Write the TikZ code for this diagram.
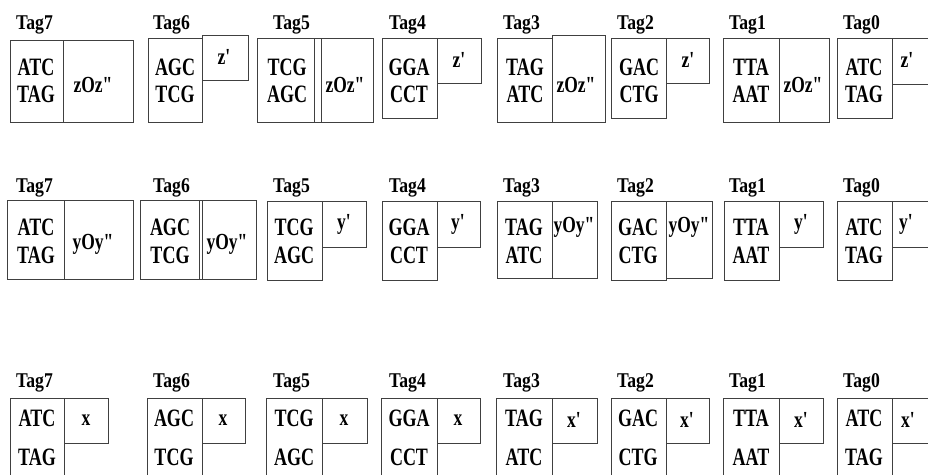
\documentclass[tikz,border=0pt]{standalone}
\usepackage{fontspec}
\setmainfont{Liberation Serif}
\usepackage{graphicx}
\newcommand{\squeeze}[2]{\scalebox{#1}[1]{#2}}
\newcommand{\prm}{\textquotesingle}
\newcommand{\dprm}{\textquotedbl}

\begin{document}
\begin{tikzpicture}[x=1pt,y=-1pt,
  cell/.style={draw=black!75,line width=.8pt},
  tag/.style={inner sep=0pt,anchor=base west,font=\fontsize{21}{21}\selectfont\bfseries},
  strand/.style={inner sep=0pt,anchor=base,font=\fontsize{25}{25}\selectfont\bfseries},
  site/.style={inner sep=0pt,font=\fontsize{23}{23}\selectfont\bfseries}]
\useasboundingbox (0,0) rectangle (928,474);

% tag labels, same columns in all three rows
\foreach \n/\x in {7/16,6/153,5/273,4/389,3/503,2/617,1/729,0/843} {
  \node[tag] (tag\n z) at (\x,29) {\squeeze{.84}{Tag\n}};
  \node[tag] (tag\n y) at (\x,192) {\squeeze{.84}{Tag\n}};
  \node[tag] (tag\n x) at (\x,387) {\squeeze{.84}{Tag\n}};
}

% z row
\draw[cell] (10,40) rectangle (63,122) (63,40) rectangle (133,122);
\draw[cell] (148,38) rectangle (202,122) (202,35) rectangle (248,80);
\draw[cell] (257,38) rectangle (321,122) (314,38) rectangle (373,122);
\draw[cell] (382,38) rectangle (437,118) (437,38) rectangle (481,83);
\draw[cell] (497,38) rectangle (552,122) (552,35) rectangle (605,122);
\draw[cell] (611,38) rectangle (666,118) (666,38) rectangle (709,83);
\draw[cell] (723,38) rectangle (779,122) (779,38) rectangle (829,122);
\draw[cell] (837,38) rectangle (892,118) (892,38) rectangle (935,84);
\foreach \n/\x/\up/\lo in {7/36/ATC/TAG,6/175/AGC/TCG,5/287/TCG/AGC,4/409/GGA/CCT,
    3/525/TAG/ATC,2/639/GAC/CTG,1/751/TTA/AAT,0/864/ATC/TAG} {
  \node[strand] (up\n z) at (\x,75) {\squeeze{.72}{\up}};
  \node[strand] (lo\n z) at (\x,102) {\squeeze{.72}{\lo}};
}
\foreach \n/\x/\y/\s in {7/93/85/zOz\dprm,6/224/57/z\prm,5/345/85/zOz\dprm,4/459/60/z\prm,
    3/576/85/zOz\dprm,2/688/60/z\prm,1/803/85/zOz\dprm,0/907/60/z\prm}
  \node[site] (site\n z) at (\x,\y) {\squeeze{.76}{\s}};

% y row
\draw[cell] (7,200) rectangle (64,279) (64,200) rectangle (133,279);
\draw[cell] (140,200) rectangle (202,279) (199,200) rectangle (256,279);
\draw[cell] (267,201) rectangle (322,280) (322,201) rectangle (366,247);
\draw[cell] (382,201) rectangle (437,280) (437,201) rectangle (480,247);
\draw[cell] (497,201) rectangle (552,278) (552,201) rectangle (597,278);
\draw[cell] (611,201) rectangle (666,280) (666,201) rectangle (712,278);
\draw[cell] (724,201) rectangle (779,280) (779,201) rectangle (823,247);
\draw[cell] (837,201) rectangle (892,280) (892,201) rectangle (935,247);
\foreach \n/\x/\up/\lo in {7/36/ATC/TAG,6/170/AGC/TCG,5/294/TCG/AGC,4/409/GGA/CCT,
    3/524/TAG/ATC,2/638/GAC/CTG,1/751/TTA/AAT,0/864/ATC/TAG} {
  \node[strand] (up\n y) at (\x,235) {\squeeze{.72}{\up}};
  \node[strand] (lo\n y) at (\x,263) {\squeeze{.72}{\lo}};
}
\foreach \n/\x/\y/\s in {7/93/244/yOy\dprm,6/227/244/yOy\dprm,5/344/224/y\prm,4/458/224/y\prm,
    3/574/227/yOy\dprm,2/689/227/yOy\dprm,1/801/224/y\prm,0/906/224/y\prm}
  \node[site] (site\n y) at (\x,\y) {\squeeze{.76}{\s}};

% x row, cut off at the bottom
\draw[cell] (10,398) rectangle (64,480) (64,398) rectangle (108,443);
\draw[cell] (147,398) rectangle (202,480) (202,398) rectangle (245,443);
\draw[cell] (266,398) rectangle (322,480) (322,398) rectangle (367,443);
\draw[cell] (381,398) rectangle (437,480) (437,398) rectangle (480,443);
\draw[cell] (496,398) rectangle (552,480) (552,398) rectangle (597,443);
\draw[cell] (611,398) rectangle (666,480) (666,398) rectangle (709,443);
\draw[cell] (723,398) rectangle (779,480) (779,398) rectangle (823,443);
\draw[cell] (837,398) rectangle (892,480) (892,398) rectangle (935,443);
\foreach \n/\x/\up/\lo in {7/37/ATC/TAG,6/174/AGC/TCG,5/294/TCG/AGC,4/409/GGA/CCT,
    3/524/TAG/ATC,2/638/GAC/CTG,1/751/TTA/AAT,0/864/ATC/TAG} {
  \node[strand] (up\n x) at (\x,426) {\squeeze{.72}{\up}};
  \node[strand] (lo\n x) at (\x,465) {\squeeze{.72}{\lo}};
}
\foreach \n/\x/\s in {7/86/x,6/223/x,5/344/x,4/458/x,3/574/x\prm,2/687/x\prm,1/801/x\prm,0/908/x\prm}
  \node[site] (site\n x) at (\x,420) {\squeeze{.76}{\s}};
\end{tikzpicture}
\end{document}
